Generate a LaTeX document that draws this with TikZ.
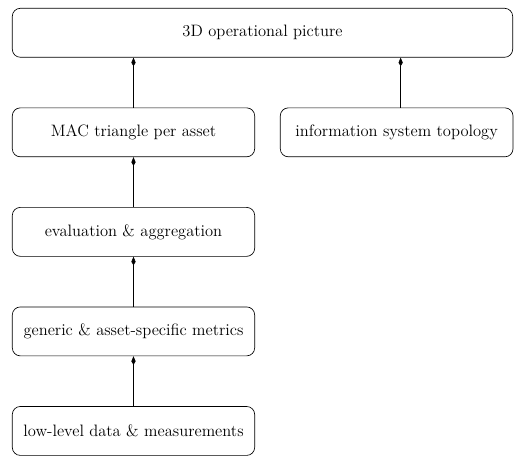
\documentclass[tikz,border=0pt]{standalone}
\usepackage{tikz}
\usetikzlibrary{arrows.meta, positioning}

\begin{document}
\begin{tikzpicture}[
    node distance=37.5pt and 18.75pt,
    box/.style={rectangle, rounded corners=6pt, draw, line width=0.5pt,
        minimum height=36.75pt, minimum width=182pt, inner sep=2pt,
        align=center, font=\fontsize{12.4}{15}\selectfont},
    arr/.style={-{Kite[length=6.5pt, width=3.2pt, inset=2.7pt]}, line width=0.5pt}
]
    % left column, bottom up
    \node[box] (mac) {MAC triangle per asset};
    \node[box, below=of mac] (evalagg) {evaluation \& aggregation};
    \node[box, below=of evalagg] (metrics) {generic \& asset-specific metrics};
    \node[box, below=of metrics] (lowlevel) {low-level data \& measurements};

    % right column and top
    \node[box, right=of mac, minimum width=174.75pt] (topo) {information system topology};
    \node[box, above right=37.5pt and 0pt of mac.north west, minimum width=375.75pt] (picture) {3D operational picture};

    % margins
    \useasboundingbox ([xshift=-9pt, yshift=6pt]picture.north west)
        rectangle ([xshift=0.75pt, yshift=-0.75pt]lowlevel.south -| picture.east);

    % arrows
    \foreach \a/\b in {lowlevel/metrics, metrics/evalagg, evalagg/mac, mac/picture}
        \draw[arr] (\a.north) -- (\a.north |- \b.south);
    \draw[arr] ([xshift=3pt]topo.north) -- ([xshift=3pt]topo.north |- picture.south);
\end{tikzpicture}
\end{document}
